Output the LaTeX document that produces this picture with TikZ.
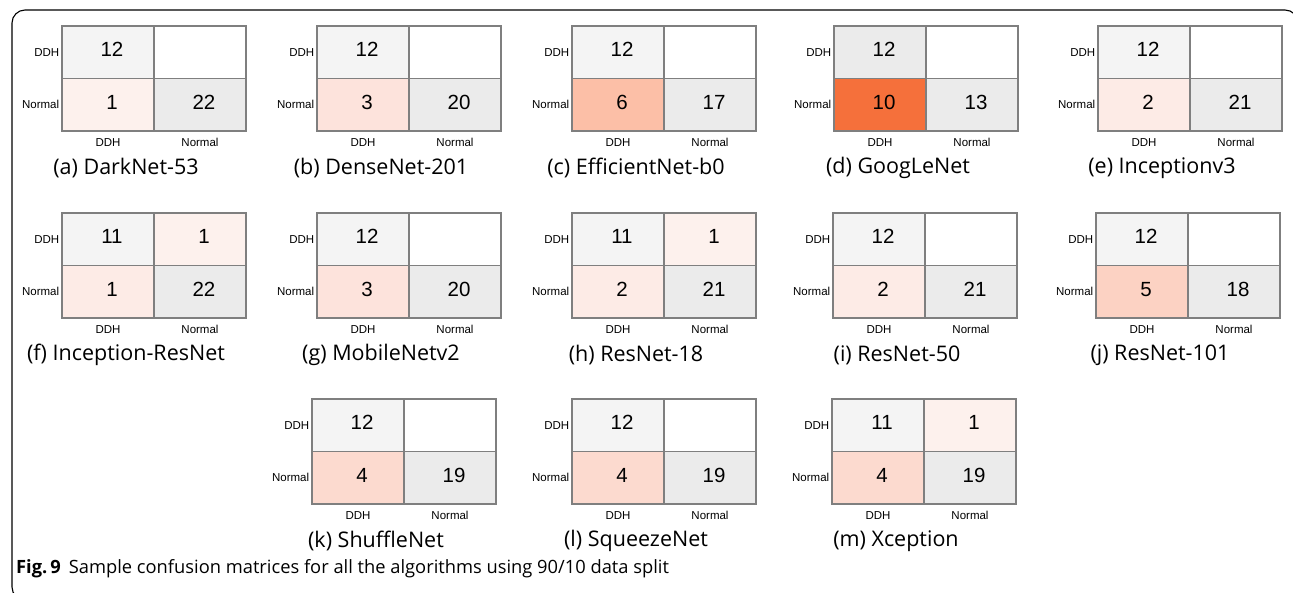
\documentclass[tikz,border=0pt]{standalone}
\usepackage{fontspec}
\setmainfont{Open Sans}
\newfontfamily\helv{Liberation Sans}
\definecolor{gridc}{HTML}{7F7F7F}
\definecolor{tlcol}{HTML}{F4F4F4}
\definecolor{tld}{HTML}{EBEBEB}
\definecolor{nncol}{HTML}{EBEBEB}
\definecolor{cz}{HTML}{FFFFFF}
\definecolor{ca}{HTML}{FDF1ED}
\definecolor{cb}{HTML}{FDEBE6}
\definecolor{cc}{HTML}{FDE3DC}
\definecolor{cd}{HTML}{FCDACF}
\definecolor{ce}{HTML}{FCD2C3}
\definecolor{cf}{HTML}{FCBFA7}
\definecolor{cj}{HTML}{F5703B}
\tikzset{
  cell/.style={draw=gridc, line width=1.2pt, minimum width=92pt, minimum height=52.5pt, inner sep=0pt},
  num/.style={font=\helv\fontsize{20.5}{22}\selectfont, inner sep=0pt},
  axl/.style={font=\helv\fontsize{11.5}{13}\selectfont, inner sep=0pt},
  capt/.style={font=\fontsize{21.5}{24}\selectfont, inner sep=0pt},
  frame/.style={draw=black, line width=1.1pt, rounded corners=13pt}
}
\newcommand\cmat[9]{%
  \begin{scope}[shift={#2}]
    \node[cell, fill=tlcol] (#1-11) at (46,26.25) {};
    \node[cell, fill=#6] (#1-12) at (138,26.25) {};
    \node[cell, fill=#8] (#1-21) at (46,78.75) {};
    \node[cell, fill=nncol] (#1-22) at (138,78.75) {};
    \node[num] (#1-n11) at ([xshift=4pt,yshift=2.5pt]#1-11.center) {#4};
    \node[num] (#1-n12) at ([xshift=4pt,yshift=2.5pt]#1-12.center) {#5};
    \node[num] (#1-n21) at ([xshift=4pt,yshift=2.5pt]#1-21.center) {#7};
    \node[num] (#1-n22) at ([xshift=4pt,yshift=2.5pt]#1-22.center) {#9};
    \node[axl, anchor=east] (#1-r1) at ([xshift=-2pt]#1-11.west) {DDH};
    \node[axl, anchor=east] (#1-r2) at ([xshift=-2pt]#1-21.west) {Normal};
    \node[axl] (#1-c1) at ([yshift=-11pt]#1-21.south) {DDH};
    \node[axl] (#1-c2) at ([yshift=-11pt]#1-22.south) {Normal};
    \node[capt] (#1-cap) at (64,142) {#3};
  \end{scope}}
\begin{document}
\begin{tikzpicture}[x=1pt, y=-1pt]
\useasboundingbox (0,0) rectangle (1293,592);
\fill[white] (0,0) rectangle (1293,592);
\begin{scope}
  \clip (0,0) rectangle (1293,592);
  \draw[frame] (12,10) rectangle (1298,600);
\end{scope}
% row 1
\cmat{a}{(62,26)}{(a) DarkNet-53}{12}{}{cz}{1}{ca}{22}
\cmat{b}{(317,26)}{(b) DenseNet-201}{12}{}{cz}{3}{cc}{20}
\cmat{c}{(572,26)}{(c) EfficientNet-b0}{12}{}{cz}{6}{cf}{17}
{\colorlet{tlcol}{tld}\cmat{d}{(834,26)}{(d) GoogLeNet}{12}{}{cz}{10}{cj}{13}}
\cmat{e}{(1098,26)}{(e) Inceptionv3}{12}{}{cz}{2}{cb}{21}
% row 2
\cmat{f}{(62,213)}{(f) Inception-ResNet}{11}{1}{ca}{1}{cb}{22}
\cmat{g}{(317,213)}{(g) MobileNetv2}{12}{}{cz}{3}{cc}{20}
\cmat{h}{(572,213)}{(h) ResNet-18}{11}{1}{ca}{2}{cb}{21}
\cmat{i}{(833,213)}{(i) ResNet-50}{12}{}{cz}{2}{cb}{21}
\cmat{j}{(1096,213)}{(j) ResNet-101}{12}{}{cz}{5}{ce}{18}
% row 3
\cmat{k}{(312,399)}{(k) ShuffleNet}{12}{}{cz}{4}{cd}{19}
\cmat{l}{(572,399)}{(l) SqueezeNet}{12}{}{cz}{4}{cd}{19}
\cmat{m}{(832,399)}{(m) Xception}{11}{1}{ca}{4}{cd}{19}
% figure caption
\node[anchor=west, inner sep=0pt, font=\fontsize{18.3}{20}\selectfont] (figcap) at (16,569)
  {\textbf{Fig.\,9}\hspace{8pt}Sample confusion matrices for all the algorithms using 90/10 data split};
\end{tikzpicture}
\end{document}
